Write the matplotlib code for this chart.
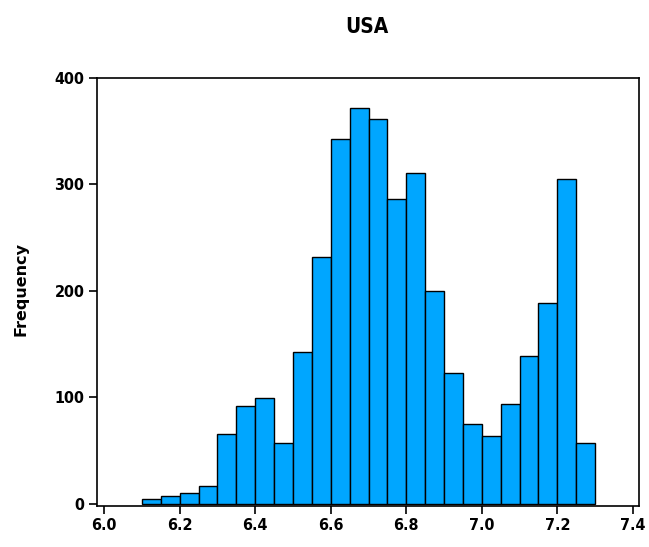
import matplotlib
matplotlib.use("Agg")
import matplotlib.pyplot as plt

# counts per bin (bin width 0.05, first bin starts at 6.10)
bin_start, bin_width = 6.10, 0.05
counts = [5, 7, 10, 17, 66, 92, 99, 57, 143, 232, 343, 372,
          361, 286, 311, 200, 123, 75, 64, 94, 139, 189, 305, 57]
bin_left = [round(bin_start + i * bin_width, 2) for i in range(len(counts))]
x_ticks = [6.0, 6.2, 6.4, 6.6, 6.8, 7.0, 7.2, 7.4]
y_ticks = [0, 100, 200, 300, 400]

plt.rcParams.update({"font.family": "DejaVu Sans", "font.weight": "bold",
                     "font.stretch": "condensed"})

fig = plt.figure(figsize=(6.49, 5.47), dpi=100)
ax = fig.add_axes([0.1495, 0.075, 0.835, 0.7825])

ax.bar(bin_left, counts, width=bin_width, align="edge", color="#00A6FF",
       edgecolor="black", linewidth=1.0)

ax.set_xlim(5.981, 7.416)
ax.set_ylim(-2, 400)
ax.set_xticks(x_ticks)
ax.set_xticklabels([f"{t:.1f}" for t in x_ticks])
ax.set_yticks(y_ticks)
ax.tick_params(direction="out", length=6, width=1.2, labelsize=11.5, pad=3)
for lab in ax.get_xticklabels() + ax.get_yticklabels():
    lab.set_fontweight("bold")
for s in ax.spines.values():
    s.set_linewidth(1.2)

fig.text(0.033, 0.472, "Frequency", rotation=90, ha="center", va="center",
         fontsize=11.5, fontweight="bold", fontstretch="normal")
fig.text(0.565, 0.951, "USA", ha="center", va="center", fontsize=15, fontweight="bold")

fig.savefig("out.png", dpi=100)
